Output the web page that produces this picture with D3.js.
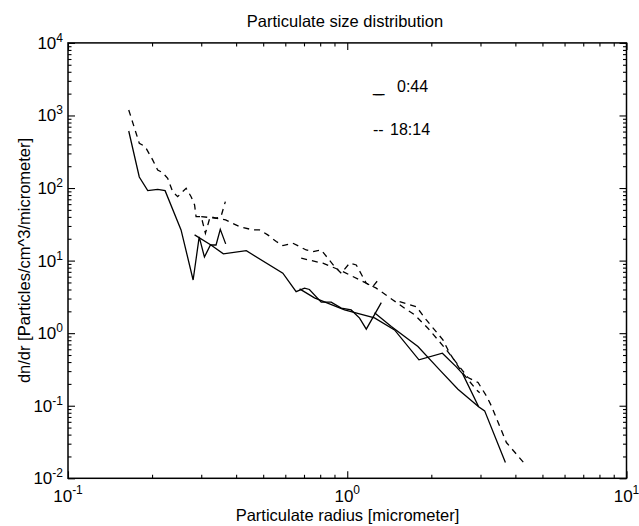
<!DOCTYPE html>
<html><head><meta charset="utf-8">
<script src="https://cdn.jsdelivr.net/npm/d3@7"></script>
<style>
body{margin:0;background:#fff}
svg{display:block}
text{font-family:"Liberation Sans",Arial,Helvetica,sans-serif;fill:#000}
</style>
</head><body>
<svg id="c" width="639" height="526"></svg>
<script>
const title = "Particulate size distribution";
const xLabel = "Particulate radius [micrometer]";
const yLabel = "dn/dr [Particles/cm^3/micrometer]";
const xTickExponents = [-1, 0, 1];
const yTickExponents = [-2, -1, 0, 1, 2, 3, 4];
const legendMarks = ["__", "--"];
const legendLabels = ["0:44", "18:14"];

// 0:44 (solid) — instrument segments, [radius, dn/dr]
const solid_a = [[0.165,611],[0.180,142],[0.193,92],[0.2095,96],[0.2227,92],[0.254,26.5],[0.2806,5.4],[0.295,21.2],[0.308,11.2],[0.3236,16.4],[0.339,16.4],[0.351,27],[0.367,17]];
const solid_b = [[0.284,22.6],[0.325,16.4],[0.360,12.4],[0.435,13.7],[0.588,6.7],[0.656,3.74],[0.703,4.17],[0.732,4.0],[0.807,2.67],[0.876,2.67],[0.952,2.21],[1.033,2.09],[1.107,1.61],[1.17,1.135],[1.324,2.64]];
const solid_c = [[0.675,4.08],[0.763,3.06],[0.978,2.09],[1.252,1.62],[1.477,1.11],[1.806,0.429],[2.191,0.530],[2.458,0.343],[2.591,0.275],[2.955,0.0966],[3.105,0.085],[3.684,0.0165]];
const solid_d = [[1.252,1.905],[1.438,1.233],[1.791,0.654],[2.142,0.312],[2.491,0.169],[2.955,0.0966]];

// 18:14 (dashed)
const dash_a = [[0.165,1191],[0.180,414],[0.189,372],[0.201,244],[0.2095,177],[0.218,163],[0.2275,136],[0.237,89],[0.247,76],[0.254,85],[0.265,99],[0.276,76],[0.284,58.5],[0.2875,40.4],[0.30,40.4],[0.3105,23.8],[0.323,40.4],[0.339,38.4],[0.353,40.4],[0.366,65]];
const dash_b = [[0.30,40.4],[0.339,38.4],[0.3667,36.4],[0.411,29.4],[0.459,26.5],[0.485,26.5],[0.519,22.6],[0.557,18.3],[0.588,16.1],[0.638,17.4],[0.713,14.0],[0.753,13.3],[0.807,14.0],[0.901,8.26],[0.952,6.7],[1.019,9.2],[1.077,8.7],[1.17,4.88],[1.235,4.38],[1.305,5.72]];
const dash_c = [[0.684,10.8],[0.818,9.2],[0.938,7.44],[1.17,4.88],[1.27,4.17],[1.457,2.87],[1.605,2.21],[1.743,1.79],[1.945,1.17],[2.112,0.809],[2.264,0.589],[2.706,0.2445],[2.94,0.209],[3.149,0.137],[3.28,0.0997],[3.715,0.0311],[4.28,0.0165]];
const dash_d = [[1.54,2.72],[1.768,2.32],[1.92,1.52],[2.055,1.11],[2.201,0.809],[2.326,0.530],[2.569,0.293],[2.90,0.166],[2.98,0.151]];

const solidSegments = [solid_a, solid_b, solid_c, solid_d];
const dashedSegments = [dash_a, dash_b, dash_c, dash_d];

const L = 68, R = 626.5, T = 42.9, B = 478.3;
const svg = d3.select("#c");
const x = d3.scaleLog().domain([0.1, 10]).range([L, R]);
const y = d3.scaleLog().domain([0.01, 1e4]).range([B, T]);

const isMajor = v => Math.abs(Math.log10(v) - Math.round(Math.log10(v))) < 1e-6;
const xMajor = xTickExponents.map(e => Math.pow(10, e));
const yMajor = yTickExponents.map(e => Math.pow(10, e));
const xMinor = x.ticks().filter(v => !isMajor(v));
const yMinor = y.ticks().filter(v => !isMajor(v));

function ax(gen, tx, ty, vals, size) {
  svg.append("g").attr("transform", `translate(${tx},${ty})`)
    .call(gen.tickValues(vals).tickSize(size).tickSizeOuter(0).tickFormat(""))
    .call(g => g.select(".domain").remove())
    .call(g => g.selectAll("line").attr("stroke", "#000").attr("stroke-width", 1.1));
}
ax(d3.axisBottom(x), 0, B, xMajor, -7);
ax(d3.axisBottom(x), 0, B, xMinor, -3.5);
ax(d3.axisTop(x), 0, T, xMajor, -7);
ax(d3.axisTop(x), 0, T, xMinor, -3.5);
ax(d3.axisLeft(y), L, 0, yMajor, -7);
ax(d3.axisLeft(y), L, 0, yMinor, -3.5);
ax(d3.axisRight(y), R, 0, yMajor, -7);
ax(d3.axisRight(y), R, 0, yMinor, -3.5);

svg.append("rect").attr("x", L).attr("y", T).attr("width", R - L).attr("height", B - T)
  .attr("fill", "none").attr("stroke", "#000").attr("stroke-width", 1.5);

xTickExponents.forEach(e => {
  const t = svg.append("text").attr("x", x(Math.pow(10, e))).attr("y", 502)
    .attr("text-anchor", "middle").attr("font-size", 17);
  t.append("tspan").text("10");
  t.append("tspan").attr("font-size", 12).attr("dy", -8).text(e);
});
yTickExponents.forEach(e => {
  const t = svg.append("text").attr("x", 63).attr("y", y(Math.pow(10, e)) + 6)
    .attr("text-anchor", "end").attr("font-size", 17);
  t.append("tspan").text("10");
  t.append("tspan").attr("font-size", 12).attr("dy", -7).text(e);
});

const line = d3.line().x(d => x(d[0])).y(d => y(d[1]));
const plot = svg.append("g");
solidSegments.forEach(seg => plot.append("path").attr("d", line(seg))
  .attr("fill", "none").attr("stroke", "#000").attr("stroke-width", 1.3));
dashedSegments.forEach(seg => plot.append("path").attr("d", line(seg))
  .attr("fill", "none").attr("stroke", "#000").attr("stroke-width", 1.3).attr("stroke-dasharray", "6,5"));

svg.append("text").attr("x", 345).attr("y", 27).attr("text-anchor", "middle").attr("font-size", 16.5).text(title);
svg.append("text").attr("x", 347.5).attr("y", 521).attr("text-anchor", "middle").attr("font-size", 16.5).text(xLabel);
svg.append("text").attr("transform", "translate(30,260.5) rotate(-90)").attr("text-anchor", "middle").attr("font-size", 16.5).text(yLabel);

// legend
const lg0 = svg.append("text").attr("y", 91.7).attr("font-size", 16);
lg0.append("tspan").attr("x", 373).attr("letter-spacing", -6.5).text(legendMarks[0]);
lg0.append("tspan").attr("x", 397).text(legendLabels[0]);
const lg1 = svg.append("text").attr("y", 135).attr("font-size", 16);
lg1.append("tspan").attr("x", 373).text(legendMarks[1]);
lg1.append("tspan").attr("x", 390).text(legendLabels[1]);
</script>
</body></html>
